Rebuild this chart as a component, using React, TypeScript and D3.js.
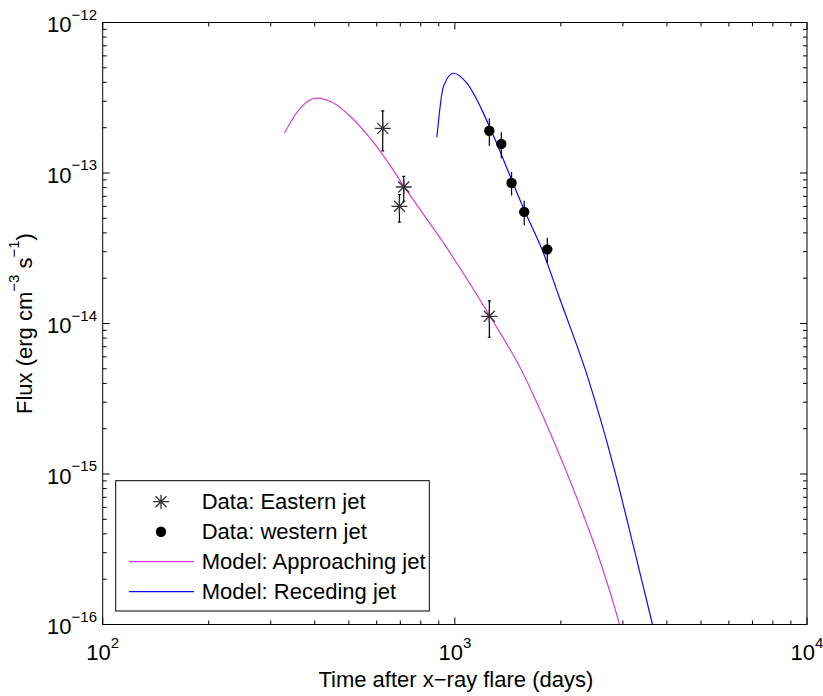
import React from "react";
import * as d3 from "d3";

// ---- data ----
const eastT = [624, 716, 696, 1253];
const eastF = [1.98e-13, 8.07e-14, 6.01e-14, 1.116e-14];
const eastLo = [1.4e-13, 6.49e-14, 4.71e-14, 8.1e-15];
const eastHi = [2.59e-13, 9.49e-14, 7.18e-14, 1.415e-14];

const westT = [1253, 1355, 1449, 1574, 1830];
const westF = [1.91e-13, 1.56e-13, 8.58e-14, 5.52e-14, 3.11e-14];
const westLo = [1.51e-13, 1.255e-13, 7.1e-14, 4.5e-14, 2.51e-14];
const westHi = [2.31e-13, 1.865e-13, 1.015e-13, 6.55e-14, 3.72e-14];

const apT = [328, 363.5, 405.5, 462, 511.4, 574.6, 641, 714.5, 949, 1260, 1533, 1865, 2270, 2587, 2935, 3046];
const apF = [1.837e-13, 2.69e-13, 3.14e-13, 2.83e-13, 2.31e-13, 1.703e-13, 1.209e-13, 8.24e-14, 3.18e-14, 1.113e-14, 5.08e-15, 1.88e-15, 6.07e-16, 2.62e-16, 1e-16, 7.24e-17];

const reT = [889, 928, 991, 1082, 1206, 1260, 1584, 1770, 1991, 2380, 2822, 3217, 3641, 3755];
const reF = [1.73e-13, 3.75e-13, 4.6e-13, 3.95e-13, 2.49e-13, 1.98e-13, 5.49e-14, 3.09e-14, 1.437e-14, 4.45e-15, 1.123e-15, 3.29e-16, 1e-16, 7.36e-17];

const xDecades = [2, 3, 4];
const yDecades = [-16, -15, -14, -13, -12];

const legendLabels = ["Data: Eastern jet", "Data: western jet", "Model: Approaching jet", "Model: Receding jet"];

const MAGENTA = "#d43fd4";
const BLUE = "#0a0aff";
const FONT = "'Liberation Sans', Arial, Helvetica, sans-serif";

const W = 823, H = 696;
const L = 102.7, R = 807, T = 22.5, B = 624.5;

function Star({ cx, cy, s = 1 }: { cx: number; cy: number; s?: number }) {
  const h = 8 * s, v = 7 * s, d = 5.5 * s;
  const p = `M${cx - h},${cy}H${cx + h}M${cx},${cy - v}V${cy + v}M${cx - d},${cy - d}L${cx + d},${cy + d}M${cx - d},${cy + d}L${cx + d},${cy - d}`;
  return <path d={p} stroke="#333" strokeWidth={1.3} fill="none" />;
}

export default function App() {
  const x = d3.scaleLog().domain([100, 10000]).range([L, R]);
  const y = d3.scaleLog().domain([1e-16, 1e-12]).range([B, T]);

  const line = (ts: number[], fs: number[]) =>
    d3.line<number>()
      .x((i) => x(ts[i]))
      .y((i) => y(fs[i]))
      .curve(d3.curveMonotoneX)(ts.map((_, i) => i)) || "";

  const xMinor: number[] = [];
  for (let e = 2; e < 4; e++) for (let k = 2; k <= 9; k++) xMinor.push(k * Math.pow(10, e));
  const yMinor: number[] = [];
  for (let e = -16; e < -12; e++) for (let k = 2; k <= 9; k++) yMinor.push(k * Math.pow(10, e));

  const MAJ = 7, MIN = 4;
  const ticks: string[] = [];
  xDecades.forEach((e) => {
    const px = x(Math.pow(10, e));
    ticks.push(`M${px},${B}V${B - MAJ}M${px},${T}V${T + MAJ}`);
  });
  xMinor.forEach((v) => {
    const px = x(v);
    ticks.push(`M${px},${B}V${B - MIN}M${px},${T}V${T + MIN}`);
  });
  yDecades.forEach((e) => {
    const py = y(Math.pow(10, e));
    ticks.push(`M${L},${py}H${L + MAJ}M${R},${py}H${R - MAJ}`);
  });
  yMinor.forEach((v) => {
    const py = y(v);
    ticks.push(`M${L},${py}H${L + MIN}M${R},${py}H${R - MIN}`);
  });

  const legX = 115.7, legY = 480.7, legW = 313.6, legH = 130.3;
  const rowY = [501.7, 531.7, 561.7, 591.7];
  const FS = 22, SFS = 15;

  return (
    <svg width={W} height={H} style={{ position: "absolute", left: 0, top: 0, background: "#fff" }} fontFamily={FONT}>
      <rect x={0} y={0} width={W} height={H} fill="#fff" />
      <defs>
        <clipPath id="plotclip">
          <rect x={L} y={T} width={R - L} height={B - T} />
        </clipPath>
      </defs>
      <g clipPath="url(#plotclip)">
        <path d={line(apT, apF)} stroke={MAGENTA} strokeWidth={1.2} fill="none" />
        <path d={line(reT, reF)} stroke={BLUE} strokeWidth={1.2} fill="none" />
        {eastT.map((t, i) => (
          <g key={"e" + i}>
            <path d={`M${x(t)},${y(eastLo[i])}V${y(eastHi[i])}M${x(t) - 1.5},${y(eastLo[i])}H${x(t) + 1.5}M${x(t) - 1.5},${y(eastHi[i])}H${x(t) + 1.5}`} stroke="#000" strokeWidth={1.2} />
            <Star cx={x(t)} cy={y(eastF[i])} />
          </g>
        ))}
        {westT.map((t, i) => (
          <g key={"w" + i}>
            <path d={`M${x(t)},${y(westLo[i])}V${y(westHi[i])}`} stroke="#000" strokeWidth={1.2} />
            <circle cx={x(t)} cy={y(westF[i])} r={5.2} fill="#000" />
          </g>
        ))}
      </g>
      <rect x={L} y={T} width={R - L} height={B - T} fill="none" stroke="#000" strokeWidth={1} />
      <path d={ticks.join("")} stroke="#000" strokeWidth={1} fill="none" />

      {xDecades.map((e) => (
        <text key={"xl" + e} x={x(Math.pow(10, e))} y={660} textAnchor="middle" fontSize={FS}>
          <tspan>10</tspan>
          <tspan fontSize={SFS} dy={-12.5}>{String(e)}</tspan>
        </text>
      ))}
      {yDecades.map((e) => (
        <text key={"yl" + e} x={97} y={y(Math.pow(10, e)) + 9.5} textAnchor="end" fontSize={FS}>
          <tspan>10</tspan>
          <tspan fontSize={SFS} dy={-12.5}>{"\u2212" + String(-e)}</tspan>
        </text>
      ))}

      <text x={(L + R) / 2 + 1} y={687} textAnchor="middle" fontSize={FS}>Time after x{"\u2212"}ray flare (days)</text>
      <text transform={`translate(32,${(T + B) / 2}) rotate(-90)`} textAnchor="middle" fontSize={FS}>
        <tspan>Flux (erg cm</tspan>
        <tspan fontSize={SFS} dy={-13}>{"\u22123"}</tspan>
        <tspan dy={13}> s</tspan>
        <tspan fontSize={SFS} dy={-13}>{"\u22121"}</tspan>
        <tspan dy={13}>)</tspan>
      </text>

      <rect x={legX} y={legY} width={legW} height={legH} fill="#fff" stroke="#000" strokeWidth={1} />
      <Star cx={161} cy={rowY[0]} />
      <circle cx={161} cy={rowY[1]} r={5.2} fill="#000" />
      <path d={`M129,${rowY[2]}H194`} stroke={MAGENTA} strokeWidth={1.2} />
      <path d={`M129,${rowY[3]}H194`} stroke={BLUE} strokeWidth={1.2} />
      {legendLabels.map((lab, i) => (
        <text key={lab} x={201.7} y={rowY[i] + 7.5} fontSize={FS}>{lab}</text>
      ))}
    </svg>
  );
}
